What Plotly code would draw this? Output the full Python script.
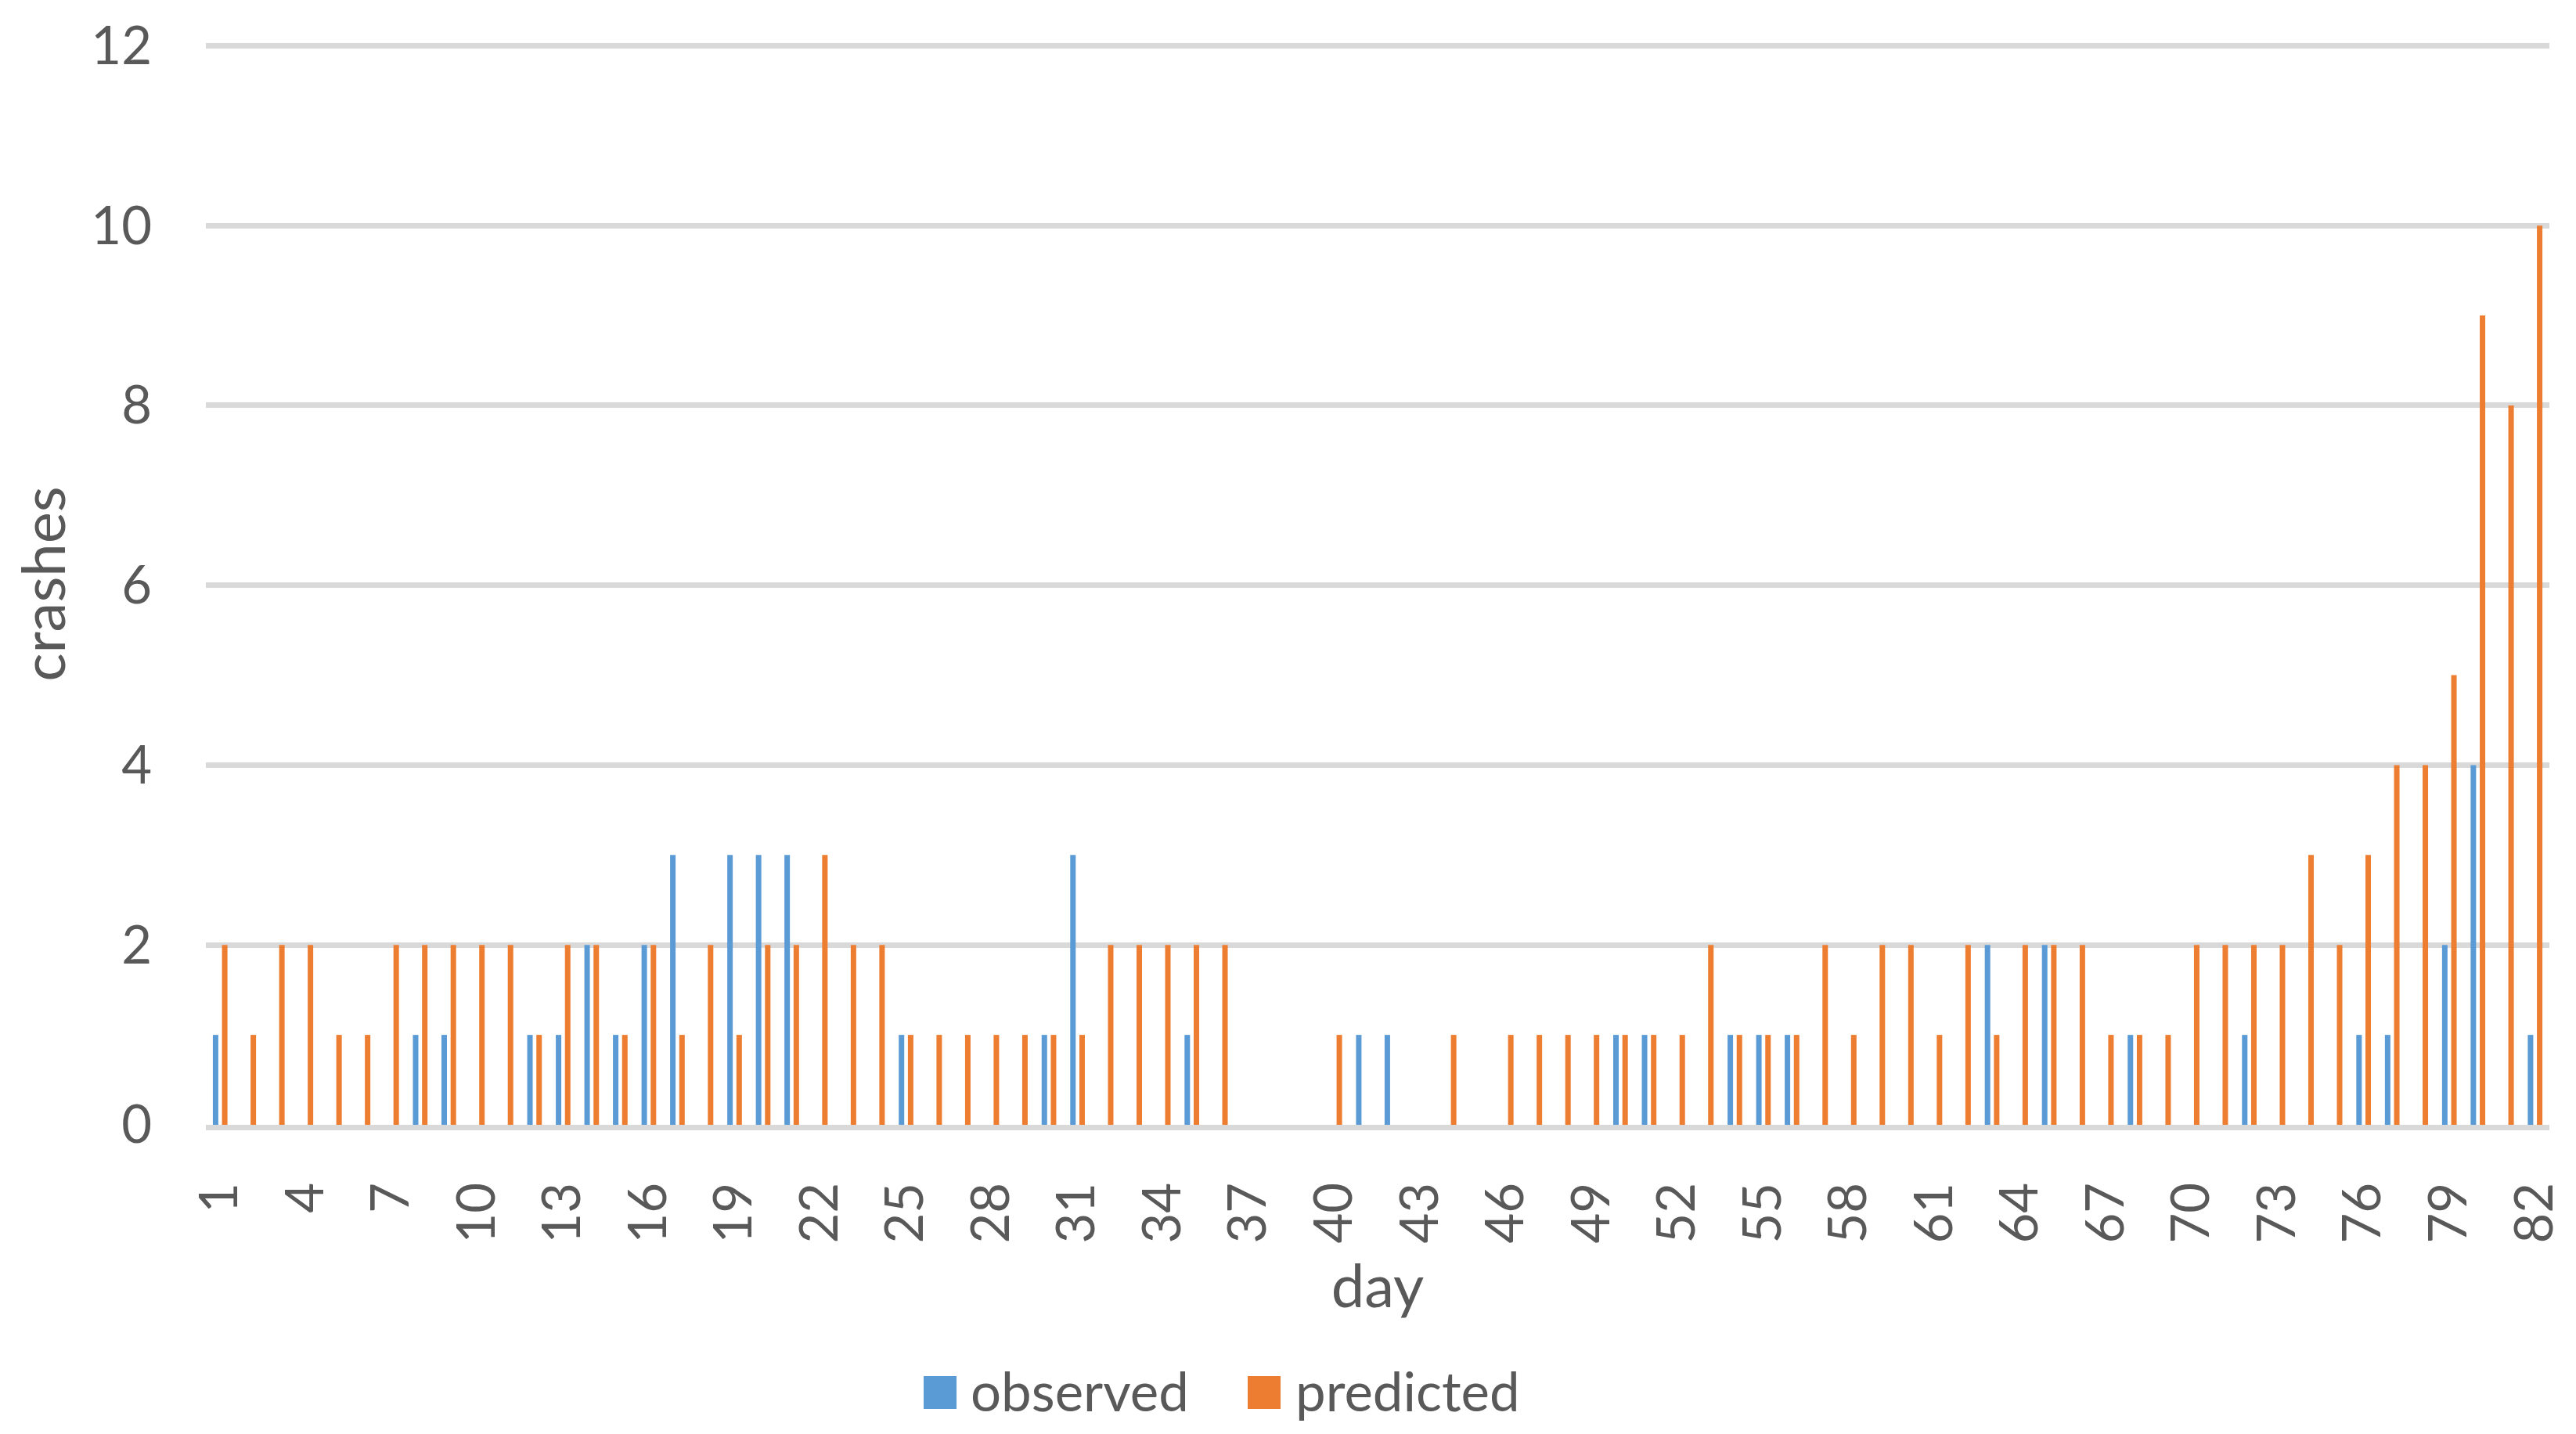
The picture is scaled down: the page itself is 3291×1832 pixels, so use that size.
import plotly.graph_objects as go

# ---- data ----
days = list(range(1, 83))
observed = [1, 0, 0, 0, 0, 0, 0, 1, 1, 0,
            0, 1, 1, 2, 1, 2, 3, 0, 3, 3,
            3, 0, 0, 0, 1, 0, 0, 0, 0, 1,
            3, 0, 0, 0, 1, 0, 0, 0, 0, 0,
            1, 1, 0, 0, 0, 0, 0, 0, 0, 1,
            1, 0, 0, 1, 1, 1, 0, 0, 0, 0,
            0, 0, 2, 0, 2, 0, 0, 1, 0, 0,
            0, 1, 0, 0, 0, 1, 1, 0, 2, 4,
            0, 1]
predicted = [2, 1, 2, 2, 1, 1, 2, 2, 2, 2,
             2, 1, 2, 2, 1, 2, 1, 2, 1, 2,
             2, 3, 2, 2, 1, 1, 1, 1, 1, 1,
             1, 2, 2, 2, 2, 2, 0, 0, 0, 1,
             0, 0, 0, 1, 0, 1, 1, 1, 1, 1,
             1, 1, 2, 1, 1, 1, 2, 1, 2, 2,
             1, 2, 1, 2, 2, 2, 1, 1, 1, 2,
             2, 2, 2, 3, 2, 3, 4, 4, 5, 9,
             8, 10]
x_tickvals = list(range(1, 83, 3))
x_ticktext = [str(v) for v in x_tickvals]
y_tickvals = [0, 2, 4, 6, 8, 10, 12]
series_names = ["observed", "predicted"]

BLUE = "#5B9BD5"
ORANGE = "#ED7D31"
TEXT = "#595959"
GRID = "#D9D9D9"
FONT = "Lato, 'Open Sans', sans-serif"

OFF = 8  # default page body margin
W, H = 3291 - OFF, 1832 - OFF
L, R, T, B = 263 - OFF, 34, 55 - OFF, 395

fig = go.Figure()
fig.add_trace(go.Bar(x=days, y=observed, name=series_names[0],
                     marker=dict(color=BLUE, line=dict(width=0)), showlegend=False))
fig.add_trace(go.Bar(x=days, y=predicted, name=series_names[1],
                     marker=dict(color=ORANGE, line=dict(width=0)), showlegend=False))


def px_x(p):
    return (p - OFF - L) / (W - L - R)


def px_y(p):
    return (H - B - (p - OFF)) / (H - B - T)


# custom legend (large square swatches as in the reference)
shapes = []
annotations = []
legend_items = [(series_names[0], BLUE, 1180, 1242), (series_names[1], ORANGE, 1594, 1657)]
for name, col, sx, tx in legend_items:
    shapes.append(dict(type="rect", xref="paper", yref="paper",
                       x0=px_x(sx), x1=px_x(sx + 42), y0=px_y(1758), y1=px_y(1800),
                       fillcolor=col, line=dict(width=0)))
    annotations.append(dict(text=name, xref="paper", yref="paper", x=px_x(tx - 4),
                            y=px_y(1776), xanchor="left", yanchor="middle", showarrow=False,
                            font=dict(size=69, color=TEXT, family=FONT)))

fig.update_layout(
    width=W, height=H,
    margin=dict(l=L, r=R, t=T, b=B),
    paper_bgcolor="white", plot_bgcolor="white",
    barmode="group", bargap=0.36, bargroupgap=0.40,
    font=dict(family=FONT, color=TEXT, size=66),
    shapes=shapes, annotations=annotations,
    xaxis=dict(
        range=[0.5, 82.5], tickmode="array", tickvals=x_tickvals, ticktext=x_ticktext,
        tickangle=-90, showgrid=False, zeroline=False, showline=True,
        linecolor=GRID, linewidth=7, ticks="", ticklabelstandoff=40,
        tickfont=dict(size=67, color=TEXT, family=FONT),
        title=dict(text="day", font=dict(size=76, color=TEXT, family=FONT), standoff=32),
        automargin=False,
    ),
    yaxis=dict(
        range=[0, 12.03], tickmode="array", tickvals=y_tickvals,
        showgrid=True, gridcolor=GRID, gridwidth=7, zeroline=False, showline=False,
        ticks="", ticklabelstandoff=68,
        tickfont=dict(size=67, color=TEXT, family=FONT),
        title=dict(text="crashes", font=dict(size=76, color=TEXT, family=FONT), standoff=34),
        automargin=False,
    ),
)

fig.write_html("out.html")
